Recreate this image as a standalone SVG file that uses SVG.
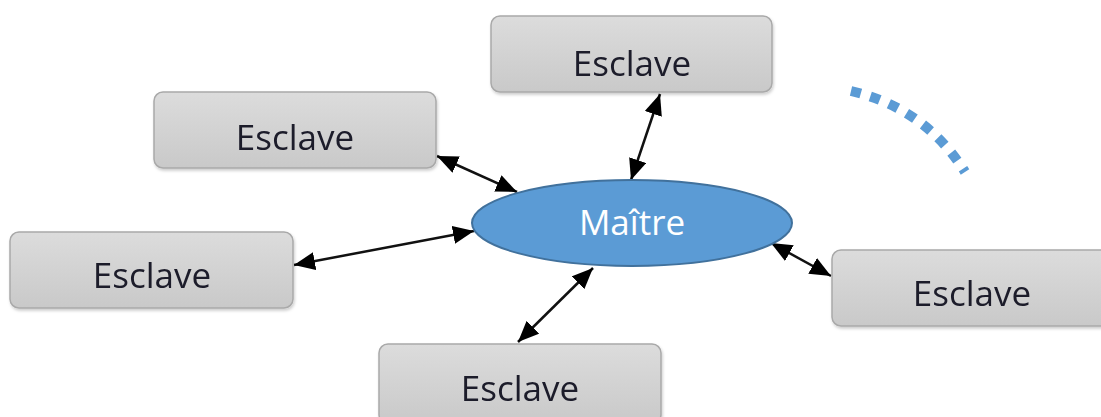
<svg xmlns="http://www.w3.org/2000/svg" width="1101" height="417" viewBox="0 0 1101 417">
  <style>
    .box { fill: url(#boxFill); stroke: #a9a9a9; stroke-width: 1.5; }
    .lbl { font-family: "Open Sans", "Noto Sans", "DejaVu Sans", sans-serif; font-size: 35px; fill: #1c1c2a; text-anchor: middle; }
    .master { font-family: "Open Sans", "Noto Sans", "DejaVu Sans", sans-serif; font-size: 35px; fill: #ffffff; text-anchor: middle; }
    .link { stroke: #111; stroke-width: 2.5; fill: none; marker-start: url(#head); marker-end: url(#head); }
  </style>
  <defs>
    <linearGradient id="boxFill" x1="0" y1="0" x2="0" y2="1">
      <stop offset="0" stop-color="#dcdcdc"/>
      <stop offset="1" stop-color="#c9c9c9"/>
    </linearGradient>
    <marker id="head" viewBox="0 0 21 18" refX="21" refY="9" markerWidth="21" markerHeight="18" markerUnits="userSpaceOnUse" orient="auto-start-reverse">
      <path d="M0,0 L21,9 L0,18 z" fill="#000"/>
    </marker>
    <filter id="shadow" x="-5%" y="-10%" width="110%" height="130%">
      <feDropShadow dx="1" dy="2" stdDeviation="1.5" flood-color="#000" flood-opacity="0.2"/>
    </filter>
  </defs>

  <!-- connectors -->
  <g id="connectors">
    <line class="link" x1="660" y1="94" x2="631" y2="180"/>
    <line class="link" x1="437" y1="156" x2="517" y2="192"/>
    <line class="link" x1="294" y1="265" x2="474" y2="231"/>
    <line class="link" x1="771" y1="243" x2="831" y2="276"/>
    <line class="link" x1="518" y1="342" x2="593" y2="268"/>
  </g>

  <g id="master">
    <ellipse cx="632" cy="223" rx="160" ry="43" fill="#5b9bd5" stroke="#41719c" stroke-width="2"/>
    <text class="master" x="632" y="235">Maître</text>
  </g>

  <g id="slave-top" filter="url(#shadow)">
    <rect class="box" x="491" y="16" width="281" height="76" rx="9"/>
    <text class="lbl" x="632" y="76">Esclave</text>
  </g>
  <g id="slave-upper-left" filter="url(#shadow)">
    <rect class="box" x="154" y="92" width="282" height="76" rx="9"/>
    <text class="lbl" x="295" y="150">Esclave</text>
  </g>
  <g id="slave-left" filter="url(#shadow)">
    <rect class="box" x="10" y="232" width="283" height="76" rx="9"/>
    <text class="lbl" x="152" y="288">Esclave</text>
  </g>
  <g id="slave-right" filter="url(#shadow)">
    <rect class="box" x="832" y="250" width="280" height="76" rx="9"/>
    <text class="lbl" x="972" y="306">Esclave</text>
  </g>
  <g id="slave-bottom" filter="url(#shadow)">
    <rect class="box" x="379" y="344" width="282" height="80" rx="9"/>
    <text class="lbl" x="520" y="401">Esclave</text>
  </g>

  <!-- dotted arc -->
  <path d="M851,91 Q925,108 965,172" fill="none" stroke="#5b9bd5" stroke-width="10" stroke-dasharray="10 10"/>
</svg>
